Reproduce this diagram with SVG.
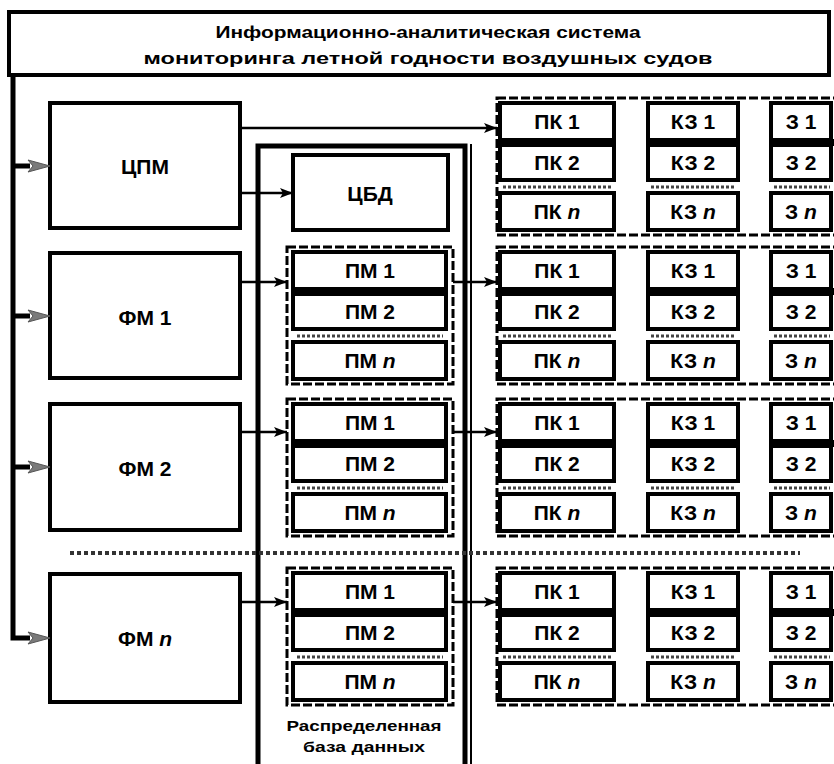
<svg xmlns="http://www.w3.org/2000/svg" width="834" height="764" viewBox="0 0 834 764">
<defs>
<style>
.box{fill:#fff;stroke:#000;stroke-width:4}
.cell{fill:#fff;stroke:#000;stroke-width:4}
.band{fill:#000}
.grp{fill:none;stroke:#000;stroke-width:3;stroke-dasharray:9 3}
.sep{stroke:#444;stroke-width:3;stroke-dasharray:3 2;fill:none}
.t{font-family:"Liberation Sans",Arial,sans-serif;font-weight:bold;fill:#000;text-anchor:middle}
.big{font-size:21px}
.sm{font-size:21px}
.ttl{font-size:17px}
.lbl{font-size:15px}
.ln{stroke:#000;stroke-width:2.5;fill:none}
.bus{stroke:#000;stroke-width:5;fill:none}
.garr{fill:#7a7a7a;stroke:#555;stroke-width:1}
.dots{stroke:#333;stroke-width:4;stroke-dasharray:4 3;fill:none}
</style>
<marker id="ah" markerUnits="userSpaceOnUse" markerWidth="14" markerHeight="10" refX="13" refY="5" orient="auto">
<path d="M0,0 L13,5 L0,10 L3,5 z" fill="#000"/>
</marker>
</defs>

<g id="title">
<rect x="9" y="12" width="820" height="63" fill="#fff" stroke="#000" stroke-width="4"/>
<text class="t ttl" x="428" y="38" textLength="425" lengthAdjust="spacingAndGlyphs">Информационно-аналитическая система</text>
<text class="t ttl" x="428" y="64" textLength="569" lengthAdjust="spacingAndGlyphs">мониторинга летной годности воздушных судов</text>
</g>

<g id="db">
<rect x="258" y="146" width="207" height="640" fill="none" stroke="#000" stroke-width="5"/>
<line x1="471" y1="144" x2="471" y2="764" stroke="#000" stroke-width="2"/>
<text class="t lbl" x="364" y="731" textLength="155" lengthAdjust="spacingAndGlyphs">Распределенная</text>
<text class="t lbl" x="364" y="752" textLength="122" lengthAdjust="spacingAndGlyphs">база данных</text>
</g>

<g id="cpm"><rect class="box" x="50" y="103" width="190" height="125"/><text class="t big" x="145" y="174">ЦПМ</text></g>
<g id="fm1"><rect class="box" x="50" y="253" width="190" height="125"/><text class="t big" x="145" y="325">ФМ 1</text></g>
<g id="fm2"><rect class="box" x="50" y="404" width="190" height="126"/><text class="t big" x="145" y="476">ФМ 2</text></g>
<g id="fmn"><rect class="box" x="50" y="574" width="190" height="128"/><text class="t big" x="145" y="646">ФМ <tspan font-style="italic">n</tspan></text></g>

<g id="cbd"><rect class="box" x="293" y="155" width="155" height="75"/><text class="t big" x="370" y="201">ЦБД</text></g>

<g id="separator"><line class="dots" x1="70" y1="553" x2="800" y2="553"/></g>

<!-- PM groups -->
<g id="pm-1" transform="translate(0,247)">
<rect class="grp" x="287" y="0" width="166" height="137"/>
<rect class="cell" x="293" y="5" width="153" height="37"/><rect class="band" x="291" y="41" width="157" height="7"/>
<rect class="cell" x="293" y="47" width="153" height="35"/>
<line class="sep" x1="297" y1="89" x2="443" y2="89"/>
<rect class="cell" x="293" y="95" width="153" height="37"/>
<text class="t sm" x="370" y="31">ПМ 1</text><text class="t sm" x="370" y="72">ПМ 2</text><text class="t sm" x="370" y="121">ПМ <tspan font-style="italic">n</tspan></text>
</g>
<g id="pm-2" transform="translate(0,399)">
<rect class="grp" x="287" y="0" width="166" height="137"/>
<rect class="cell" x="293" y="5" width="153" height="37"/><rect class="band" x="291" y="41" width="157" height="7"/>
<rect class="cell" x="293" y="47" width="153" height="35"/>
<line class="sep" x1="297" y1="89" x2="443" y2="89"/>
<rect class="cell" x="293" y="95" width="153" height="37"/>
<text class="t sm" x="370" y="31">ПМ 1</text><text class="t sm" x="370" y="72">ПМ 2</text><text class="t sm" x="370" y="121">ПМ <tspan font-style="italic">n</tspan></text>
</g>
<g id="pm-n" transform="translate(0,568)">
<rect class="grp" x="287" y="0" width="166" height="137"/>
<rect class="cell" x="293" y="5" width="153" height="37"/><rect class="band" x="291" y="41" width="157" height="7"/>
<rect class="cell" x="293" y="47" width="153" height="35"/>
<line class="sep" x1="297" y1="89" x2="443" y2="89"/>
<rect class="cell" x="293" y="95" width="153" height="37"/>
<text class="t sm" x="370" y="31">ПМ 1</text><text class="t sm" x="370" y="72">ПМ 2</text><text class="t sm" x="370" y="121">ПМ <tspan font-style="italic">n</tspan></text>
</g>

<!-- PK groups -->
<g id="pk-0" transform="translate(0,98)">
<rect class="grp" x="497" y="0" width="350" height="137"/>
<rect class="cell" x="500" y="5" width="114" height="37"/><rect class="band" x="498" y="41" width="118" height="7"/><rect class="cell" x="500" y="47" width="114" height="35"/><line class="sep" x1="503" y1="89" x2="612" y2="89"/><rect class="cell" x="500" y="95" width="114" height="37"/>
<rect class="cell" x="648" y="5" width="90" height="37"/><rect class="band" x="646" y="41" width="94" height="7"/><rect class="cell" x="648" y="47" width="90" height="35"/><line class="sep" x1="651" y1="89" x2="736" y2="89"/><rect class="cell" x="648" y="95" width="90" height="37"/>
<rect class="cell" x="771" y="5" width="60" height="37"/><rect class="band" x="769" y="41" width="65" height="7"/><rect class="cell" x="771" y="47" width="60" height="35"/><line class="sep" x1="774" y1="89" x2="830" y2="89"/><rect class="cell" x="771" y="95" width="60" height="37"/>
<text class="t sm" x="557" y="31">ПК 1</text><text class="t sm" x="557" y="72">ПК 2</text><text class="t sm" x="557" y="121">ПК <tspan font-style="italic">n</tspan></text>
<text class="t sm" x="693" y="31">КЗ 1</text><text class="t sm" x="693" y="72">КЗ 2</text><text class="t sm" x="693" y="121">КЗ <tspan font-style="italic">n</tspan></text>
<text class="t sm" x="801" y="31">З 1</text><text class="t sm" x="801" y="72">З 2</text><text class="t sm" x="801" y="121">З <tspan font-style="italic">n</tspan></text>
</g>
<g id="pk-1" transform="translate(0,247)">
<rect class="grp" x="497" y="0" width="350" height="137"/>
<rect class="cell" x="500" y="5" width="114" height="37"/><rect class="band" x="498" y="41" width="118" height="7"/><rect class="cell" x="500" y="47" width="114" height="35"/><line class="sep" x1="503" y1="89" x2="612" y2="89"/><rect class="cell" x="500" y="95" width="114" height="37"/>
<rect class="cell" x="648" y="5" width="90" height="37"/><rect class="band" x="646" y="41" width="94" height="7"/><rect class="cell" x="648" y="47" width="90" height="35"/><line class="sep" x1="651" y1="89" x2="736" y2="89"/><rect class="cell" x="648" y="95" width="90" height="37"/>
<rect class="cell" x="771" y="5" width="60" height="37"/><rect class="band" x="769" y="41" width="65" height="7"/><rect class="cell" x="771" y="47" width="60" height="35"/><line class="sep" x1="774" y1="89" x2="830" y2="89"/><rect class="cell" x="771" y="95" width="60" height="37"/>
<text class="t sm" x="557" y="31">ПК 1</text><text class="t sm" x="557" y="72">ПК 2</text><text class="t sm" x="557" y="121">ПК <tspan font-style="italic">n</tspan></text>
<text class="t sm" x="693" y="31">КЗ 1</text><text class="t sm" x="693" y="72">КЗ 2</text><text class="t sm" x="693" y="121">КЗ <tspan font-style="italic">n</tspan></text>
<text class="t sm" x="801" y="31">З 1</text><text class="t sm" x="801" y="72">З 2</text><text class="t sm" x="801" y="121">З <tspan font-style="italic">n</tspan></text>
</g>
<g id="pk-2" transform="translate(0,399)">
<rect class="grp" x="497" y="0" width="350" height="137"/>
<rect class="cell" x="500" y="5" width="114" height="37"/><rect class="band" x="498" y="41" width="118" height="7"/><rect class="cell" x="500" y="47" width="114" height="35"/><line class="sep" x1="503" y1="89" x2="612" y2="89"/><rect class="cell" x="500" y="95" width="114" height="37"/>
<rect class="cell" x="648" y="5" width="90" height="37"/><rect class="band" x="646" y="41" width="94" height="7"/><rect class="cell" x="648" y="47" width="90" height="35"/><line class="sep" x1="651" y1="89" x2="736" y2="89"/><rect class="cell" x="648" y="95" width="90" height="37"/>
<rect class="cell" x="771" y="5" width="60" height="37"/><rect class="band" x="769" y="41" width="65" height="7"/><rect class="cell" x="771" y="47" width="60" height="35"/><line class="sep" x1="774" y1="89" x2="830" y2="89"/><rect class="cell" x="771" y="95" width="60" height="37"/>
<text class="t sm" x="557" y="31">ПК 1</text><text class="t sm" x="557" y="72">ПК 2</text><text class="t sm" x="557" y="121">ПК <tspan font-style="italic">n</tspan></text>
<text class="t sm" x="693" y="31">КЗ 1</text><text class="t sm" x="693" y="72">КЗ 2</text><text class="t sm" x="693" y="121">КЗ <tspan font-style="italic">n</tspan></text>
<text class="t sm" x="801" y="31">З 1</text><text class="t sm" x="801" y="72">З 2</text><text class="t sm" x="801" y="121">З <tspan font-style="italic">n</tspan></text>
</g>
<g id="pk-n" transform="translate(0,568)">
<rect class="grp" x="497" y="0" width="350" height="137"/>
<rect class="cell" x="500" y="5" width="114" height="37"/><rect class="band" x="498" y="41" width="118" height="7"/><rect class="cell" x="500" y="47" width="114" height="35"/><line class="sep" x1="503" y1="89" x2="612" y2="89"/><rect class="cell" x="500" y="95" width="114" height="37"/>
<rect class="cell" x="648" y="5" width="90" height="37"/><rect class="band" x="646" y="41" width="94" height="7"/><rect class="cell" x="648" y="47" width="90" height="35"/><line class="sep" x1="651" y1="89" x2="736" y2="89"/><rect class="cell" x="648" y="95" width="90" height="37"/>
<rect class="cell" x="771" y="5" width="60" height="37"/><rect class="band" x="769" y="41" width="65" height="7"/><rect class="cell" x="771" y="47" width="60" height="35"/><line class="sep" x1="774" y1="89" x2="830" y2="89"/><rect class="cell" x="771" y="95" width="60" height="37"/>
<text class="t sm" x="557" y="31">ПК 1</text><text class="t sm" x="557" y="72">ПК 2</text><text class="t sm" x="557" y="121">ПК <tspan font-style="italic">n</tspan></text>
<text class="t sm" x="693" y="31">КЗ 1</text><text class="t sm" x="693" y="72">КЗ 2</text><text class="t sm" x="693" y="121">КЗ <tspan font-style="italic">n</tspan></text>
<text class="t sm" x="801" y="31">З 1</text><text class="t sm" x="801" y="72">З 2</text><text class="t sm" x="801" y="121">З <tspan font-style="italic">n</tspan></text>
</g>

<g id="connectors">
<path class="bus" d="M13,73 V638 H30"/>
<path class="bus" d="M13,166 H30"/>
<path class="bus" d="M13,316 H30"/>
<path class="bus" d="M13,467 H30"/>
<polygon class="garr" points="28,160 50,166 28,172 33,166"/>
<polygon class="garr" points="28,310 50,316 28,322 33,316"/>
<polygon class="garr" points="28,461 50,467 28,473 33,467"/>
<polygon class="garr" points="28,632 50,638 28,644 33,638"/>
<path class="ln" d="M240,128 H497" marker-end="url(#ah)"/>
<path class="ln" d="M240,193 H293" marker-end="url(#ah)"/>
<path class="ln" d="M240,282 H287" marker-end="url(#ah)"/>
<path class="ln" d="M240,432 H287" marker-end="url(#ah)"/>
<path class="ln" d="M240,602 H287" marker-end="url(#ah)"/>
<path class="ln" d="M453,282 H497" marker-end="url(#ah)"/>
<path class="ln" d="M453,432 H497" marker-end="url(#ah)"/>
<path class="ln" d="M453,602 H497" marker-end="url(#ah)"/>
</g>
</svg>
